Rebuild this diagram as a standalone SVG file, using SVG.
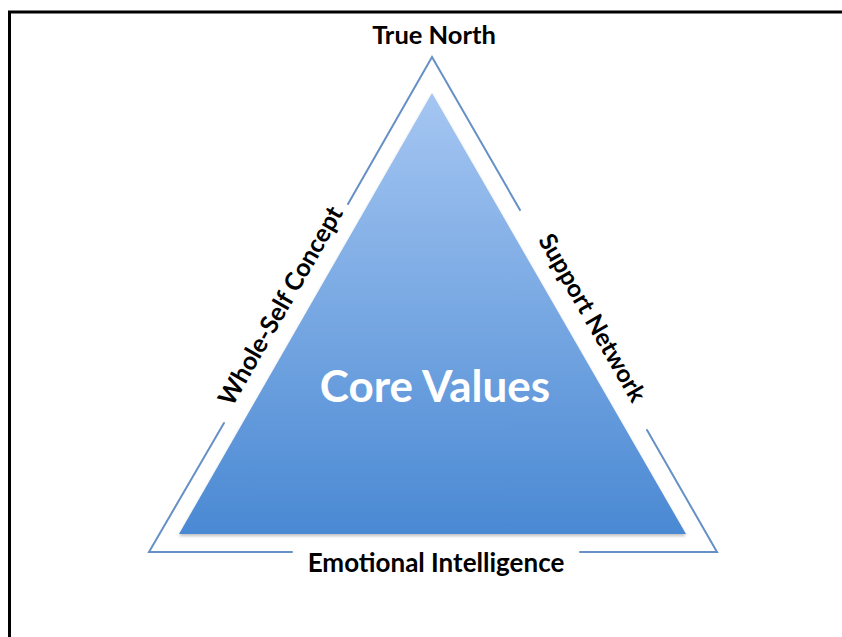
<svg xmlns="http://www.w3.org/2000/svg" width="842" height="637" viewBox="0 0 842 637">
  <defs>
    <linearGradient id="coreFill" x1="0" y1="0" x2="0" y2="1">
      <stop offset="0" stop-color="#a5c6f2"/>
      <stop offset="1" stop-color="#4a89d3"/>
    </linearGradient>
    <filter id="softShadow" x="-10%" y="-10%" width="120%" height="120%">
      <feDropShadow dx="0" dy="2" stdDeviation="1.5" flood-color="#000" flood-opacity="0.25"/>
    </filter>
    <style>
      .side { fill: none; stroke: #6690c6; stroke-width: 2; stroke-linecap: round; }
      .label { font-family: Lato, "Open Sans", "Liberation Sans", sans-serif; font-weight: bold; fill: #000; text-anchor: middle; }
      .core { font-family: Lato, "Open Sans", "Liberation Sans", sans-serif; font-weight: bold; fill: #fff; text-anchor: middle; }
    </style>
  </defs>

  <rect width="842" height="637" fill="#fff"/>
  <!-- page frame: left and top edges -->
  <path d="M9.5,637 V12 H842" fill="none" stroke="#000" stroke-width="3"/>

  <!-- outer triangle sides, broken where the labels sit -->
  <g id="connectors">
    <path class="side" d="M348,204 L432,57 L520,210"/>
    <path class="side" d="M224,423 L149,552 L292,552"/>
    <path class="side" d="M580,552 L717,552 L647,430"/>
  </g>

  <g id="core-values">
    <path d="M432,93 L686,534 L179,534 Z" fill="url(#coreFill)" filter="url(#softShadow)"/>
    <text class="core" x="435" y="402" font-size="44">Core Values</text>
  </g>

  <g id="true-north">
    <text class="label" x="434" y="44" font-size="25.5">True North</text>
  </g>

  <g id="emotional-intelligence">
    <text class="label" x="436" y="572" font-size="26">Emotional Intelligence</text>
  </g>

  <g id="whole-self-concept">
    <text class="label" font-size="25" transform="translate(288,310) rotate(-60.24)">Whole-Self Concept</text>
  </g>

  <g id="support-network">
    <text class="label" font-size="24.5" transform="translate(585,322) rotate(60.07)">Support Network</text>
  </g>
</svg>
